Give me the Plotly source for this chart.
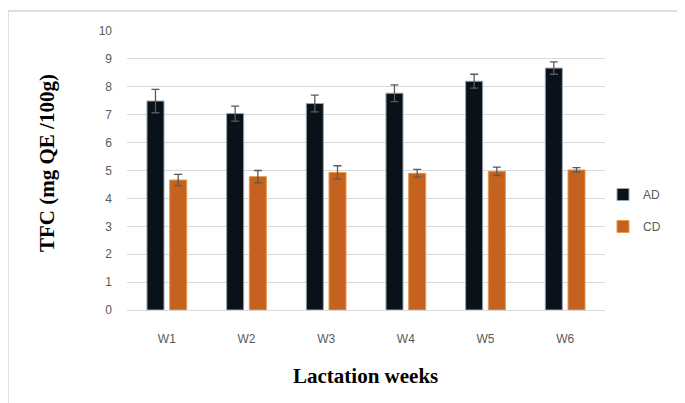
import plotly.graph_objects as go

weeks = ["W1", "W2", "W3", "W4", "W5", "W6"]
ad_values = [7.49, 7.04, 7.40, 7.77, 8.20, 8.67]
ad_errors = [0.42, 0.27, 0.30, 0.30, 0.25, 0.22]
cd_values = [4.66, 4.78, 4.93, 4.90, 4.97, 5.02]
cd_errors = [0.20, 0.22, 0.24, 0.14, 0.15, 0.08]
y_ticks = list(range(0, 11))

W, H = 685, 403
OFF = 8  # page body margin offset
L, R, T, B = 127 - OFF, 685 - (605 - OFF), 31 - OFF, 403 - (310 - OFF)
pw, ph = W - L - R, H - T - B

def px_x(px):
    return (px - OFF - L) / pw

def px_y(py):
    return (H - B - (py - OFF)) / ph

fig = go.Figure()
fig.add_trace(go.Bar(
    x=weeks, y=ad_values, name="AD", legendgroup="a",
    marker=dict(color="#09121a", line=dict(color="#9aa3ab", width=1)),
    error_y=dict(type="data", array=ad_errors, color="#5a5a5a", thickness=1.3, width=4),
))
fig.add_trace(go.Bar(
    x=weeks, y=cd_values, name="CD", legendgroup="b",
    marker=dict(color="#c5621f", line=dict(color="#e39a4a", width=1)),
    error_y=dict(type="data", array=cd_errors, color="#5a5a5a", thickness=1.3, width=4),
))

title_font = dict(family="Liberation Serif, Times New Roman, serif", size=21, color="black")

fig.update_layout(
    width=W, height=H,
    margin=dict(l=L, r=R, t=T, b=B, autoexpand=False),
    paper_bgcolor="white", plot_bgcolor="white",
    barmode="group", bargap=0.43, bargroupgap=0.25,
    font=dict(family="Liberation Sans, Arial, sans-serif", size=12, color="#595959"),
    showlegend=True,
    legend=dict(x=px_x(603), y=px_y(180), xanchor="left", yanchor="top",
                font=dict(size=12, color="#595959"), tracegroupgap=13,
                bgcolor="rgba(0,0,0,0)", itemwidth=30),
    xaxis=dict(
        showgrid=False, showline=True, linecolor="#d9d9d9", linewidth=1,
        ticks="", ticklabelstandoff=18, automargin=False,
        tickfont=dict(size=12, color="#595959"),
    ),
    yaxis=dict(
        range=[0, 10], tickvals=y_ticks, showgrid=True, gridcolor="#d9d9d9", gridwidth=1,
        zeroline=False, showline=False, ticks="", ticklabelstandoff=14, automargin=False,
        tickfont=dict(size=12, color="#595959"),
    ),
    annotations=[
        dict(text="<b>Lactation weeks</b>", xref="paper", yref="paper",
             x=px_x(365), y=px_y(376), xanchor="center", yanchor="middle",
             showarrow=False, font=title_font),
        dict(text="<b>TFC (mg QE /100g)</b>", xref="paper", yref="paper",
             x=px_x(47), y=px_y(163), xanchor="center", yanchor="middle",
             showarrow=False, textangle=-90, font=title_font),
    ],
    shapes=[
        dict(type="line", xref="paper", yref="paper", x0=px_x(8), x1=px_x(700), y0=px_y(11), y1=px_y(11),
             line=dict(color="#bfbfbf", width=1)),
        dict(type="line", xref="paper", yref="paper", x0=px_x(8), x1=px_x(8), y0=px_y(11), y1=px_y(420),
             line=dict(color="#bfbfbf", width=1)),
    ],
)

fig.write_html("out.html")
